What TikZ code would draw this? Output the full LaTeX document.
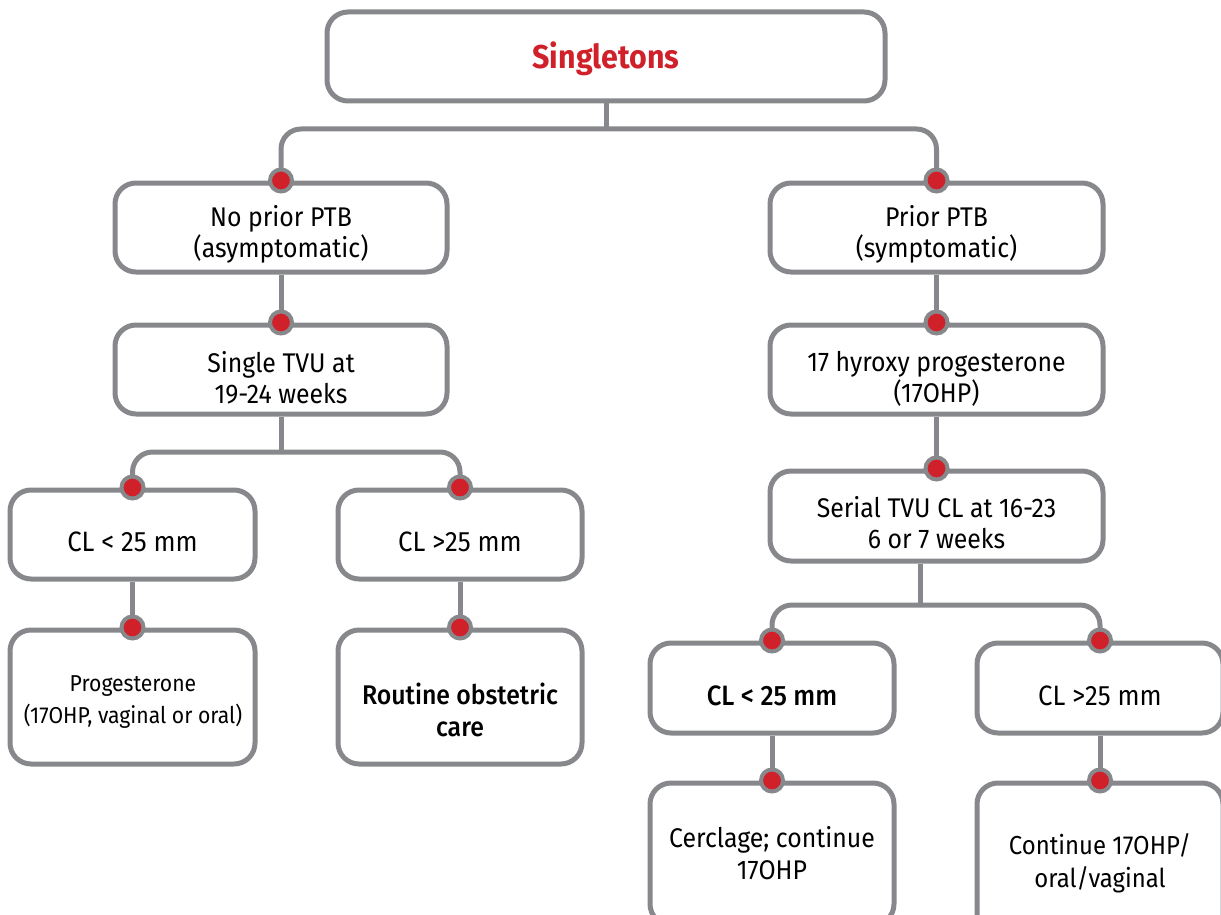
\documentclass[tikz,border=0pt]{standalone}
\usepackage{fontspec}
\setmainfont{Fira Sans}[FakeStretch=0.92]
\newfontfamily\medfont{Fira Sans Medium}[FakeStretch=0.92]
\definecolor{linegray}{HTML}{87888C}
\definecolor{dotred}{HTML}{D0212A}
\begin{document}
\begin{tikzpicture}[x=1pt,y=-1pt,
  box/.style={draw=linegray, line width=5pt, rounded corners=21pt, fill=white,
    inner sep=0pt},
  lbl/.style={inner sep=0pt, align=center, text=black,
    font=\fontsize{27}{31}\selectfont},
  conn/.style={draw=linegray, line width=5pt},
  branch/.style={conn, rounded corners=20pt},
  dot/.style={circle, fill=dotred, draw=linegray, line width=4pt,
    minimum size=22pt, inner sep=0pt}]
\useasboundingbox (0,0) rectangle (1221,915);
\clip (0,0) rectangle (1221,915);

% boxes
\node[box, minimum width=558pt, minimum height=89pt] (top) at (606,56.5) {};
\node[box, minimum width=332pt, minimum height=89pt] (l1) at (281,227.5) {};
\node[box, minimum width=333pt, minimum height=89pt] (r1) at (936.5,227.5) {};
\node[box, minimum width=332pt, minimum height=89pt] (l2) at (281,369.5) {};
\node[box, minimum width=333pt, minimum height=89pt] (r2) at (936.5,369.5) {};
\node[box, minimum width=333pt, minimum height=90pt] (r3) at (936.5,516) {};
\node[box, minimum width=245pt, minimum height=89pt] (l3a) at (132.5,534.5) {};
\node[box, minimum width=244pt, minimum height=89pt] (l3b) at (460,534.5) {};
\node[box, minimum width=245pt, minimum height=134pt] (l4a) at (132.5,697) {};
\node[box, minimum width=244pt, minimum height=134pt] (l4b) at (460,697) {};
\node[box, minimum width=244pt, minimum height=90pt] (r4a) at (772,688) {};
\node[box, minimum width=246pt, minimum height=90pt] (r4b) at (1100,688) {};
\node[box, minimum width=244pt, minimum height=142pt] (r5a) at (772,854) {};
\node[box, minimum width=246pt, minimum height=162pt] (r5b) at (1100,864) {};

% box texts
\node[lbl, text=dotred, font=\fontsize{33}{36}\bfseries] (top-t) at (606,58.5) {Singletons};
\node[lbl] (l1-t) at (281,234.5) {No prior PTB\\(asymptomatic)};
\node[lbl] (r1-t) at (936.5,234.5) {Prior PTB\\(symptomatic)};
\node[lbl] (l2-t) at (281,377.5) {Single TVU at\\19-24 weeks};
\node[lbl] (r2-t) at (936.5,378.5) {17 hyroxy progesterone\\(17OHP)};
\node[lbl] (r3-t) at (936.5,523) {Serial TVU CL at 16-23\\6 or 7 weeks};
\node[lbl, font=\fontsize{28}{32}\selectfont] (l3a-t) at (132.5,541.5) {CL < 25 mm};
\node[lbl, font=\fontsize{28}{32}\selectfont] (l3b-t) at (460,541.5) {CL >25 mm};
\node[lbl, font=\fontsize{23}{32}\selectfont] (l4a-t) at (133,702.5)
  {Progesterone\\(17OHP, vaginal or oral)};
\node[lbl, font=\fontsize{27}{32}\medfont] (l4b-t) at (460,709.5)
  {Routine obstetric\\care};
\node[lbl, font=\fontsize{28}{32}\medfont] (r4a-t) at (772,695.5) {CL < 25 mm};
\node[lbl, font=\fontsize{28}{32}\selectfont] (r4b-t) at (1100,695.5) {CL >25 mm};
\node[lbl, font=\fontsize{27}{32}\selectfont] (r5a-t) at (772,853.5)
  {Cerclage; continue\\17OHP};
\node[lbl, font=\fontsize{26}{33}\selectfont] (r5b-t) at (1100,863)
  {Continue 17OHP/\\oral/vaginal};

% junction points of the branching connectors
\coordinate (j1) at (606,129);
\coordinate (j2) at (281,452);
\coordinate (r3b) at (920,563.5);
\coordinate (j3) at (920,605);

% connectors
\draw[conn] (top.south) -- (j1);
\draw[branch] (j1) -| (l1.north);
\draw[branch] (j1) -| (r1.north);
\draw[conn] (l1.south) -- (l2.north);
\draw[conn] (r1.south) -- (r2.north);
\draw[conn] (r2.south) -- (r3.north);
\draw[conn] (l2.south) -- (j2);
\draw[branch] (j2) -| (l3a.north);
\draw[branch] (j2) -| (l3b.north);
\draw[conn] (l3a.south) -- (l4a.north);
\draw[conn] (l3b.south) -- (l4b.north);
\draw[conn] (r3b) -- (j3);
\draw[branch] (j3) -| (r4a.north);
\draw[branch] (j3) -| (r4b.north);
\draw[conn] (r4a.south) -- (r5a.north);
\draw[conn] (r4b.south) -- (r5b.north);

% red entry dots
\foreach \n in {l1,r1,l2,r2,r3,l3a,l3b,l4a,l4b,r4a,r4b,r5a,r5b}
  \node[dot] (dot-\n) at (\n.north) {};
\end{tikzpicture}
\end{document}
